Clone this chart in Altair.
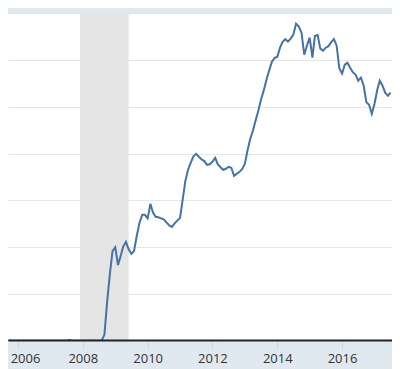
import altair as alt
import pandas as pd

# Monthly values (billions of dollars), starting 2005-08
first_month = "2005-08-01"
reserves = [
    # 2005 Aug-Dec
    1.9, 1.8, 1.9, 1.8, 1.9,
    # 2006
    1.9, 1.7, 1.8, 1.7, 1.6, 1.8, 1.8, 1.6, 1.7, 1.7, 1.6, 1.8,
    # 2007
    1.7, 1.6, 1.7, 1.6, 1.5, 1.6, 1.7, 8.0, 3.0, 1.8, 1.7, 2.0,
    # 2008
    1.6, 1.7, 2.6, 1.8, 2.0, 2.0, 2.0, 2.0, 55, 332, 572, 768,
    # 2009
    800, 648, 721, 806, 846, 783, 744, 769, 901, 1010, 1077, 1077,
    # 2010
    1046, 1171, 1099, 1060, 1056, 1047, 1038, 1013, 986, 974, 1004, 1028,
    # 2011
    1051, 1214, 1363, 1462, 1521, 1577, 1598, 1573, 1550, 1536, 1504, 1509,
    # 2012
    1530, 1564, 1509, 1483, 1462, 1470, 1487, 1479, 1410, 1427, 1444, 1466,
    # 2013
    1513, 1632, 1722, 1795, 1880, 1966, 2060, 2137, 2231, 2308, 2385, 2415,
    # 2014
    2427, 2504, 2551, 2577, 2556, 2581, 2615, 2709, 2684, 2632, 2444, 2521,
    # 2015
    2590, 2419, 2603, 2611, 2496, 2479, 2504, 2517, 2551, 2577, 2521, 2329,
    # 2016
    2282, 2359, 2376, 2333, 2295, 2274, 2222, 2248, 2179, 2038, 2017, 1940,
    # 2017 Jan-Jul
    2026, 2145, 2222, 2179, 2120, 2094, 2120,
]
dates = pd.date_range(first_month, periods=len(reserves), freq="MS").strftime("%Y-%m-%d")

recession_start = ["2007-12-01"]
recession_end = ["2009-06-01"]

tick_years = [2006, 2008, 2010, 2012, 2014, 2016]
grid_values = [400, 800, 1200, 1600, 2000, 2400, 2800]

df = pd.DataFrame({"date": dates, "value": reserves})
rec_df = pd.DataFrame({"start": recession_start, "end": recession_end})

xscale = alt.Scale(
    type="utc", nice=False,
    domain=[alt.DateTime(year=2005, month=9, date=10, utc=True),
            alt.DateTime(year=2017, month=7, date=17, utc=True)],
)
xaxis = alt.Axis(
    values=[alt.DateTime(year=y, month=1, date=1, utc=True) for y in tick_years],
    format="%Y", formatType="utc", title=None, grid=False,
    domainColor="#222222", domainWidth=2, offset=-1,
    tickColor="#ccd6eb", tickSize=9, tickWidth=1,
    labelFont="Open Sans", labelFontSize=13, labelColor="#333333",
    labelPadding=3, labelFlush=False, zindex=1,
    labelOffset={"condition": {"test": "datum.value < utc(2007, 0, 1)", "value": 7}, "value": 0},
)
yaxis = alt.Axis(
    values=grid_values, title=None, labels=False, ticks=False, domain=False,
    grid=True, gridColor="#e6e6e6", gridWidth=1,
)

rec = alt.Chart(rec_df).mark_rect(color="#e5e5e5").encode(
    x=alt.X("start:T", scale=xscale, axis=xaxis),
    x2="end:T",
)
line = alt.Chart(df).mark_line(color="#4572a7", strokeWidth=2, clip=True).encode(
    x=alt.X("date:T", scale=xscale, axis=xaxis),
    y=alt.Y("value:Q", scale=alt.Scale(domain=[0, 2800], nice=False), axis=yaxis),
)

chart = alt.layer(rec, line).properties(
    width=384, height=328,
    autosize="none",
    padding={"left": 0, "top": 5, "right": 0, "bottom": 28},
    background="#e1e9f0",
).configure_view(fill="white", stroke=None)

chart.save("out.html", embed_options={"renderer": "svg", "actions": False})
